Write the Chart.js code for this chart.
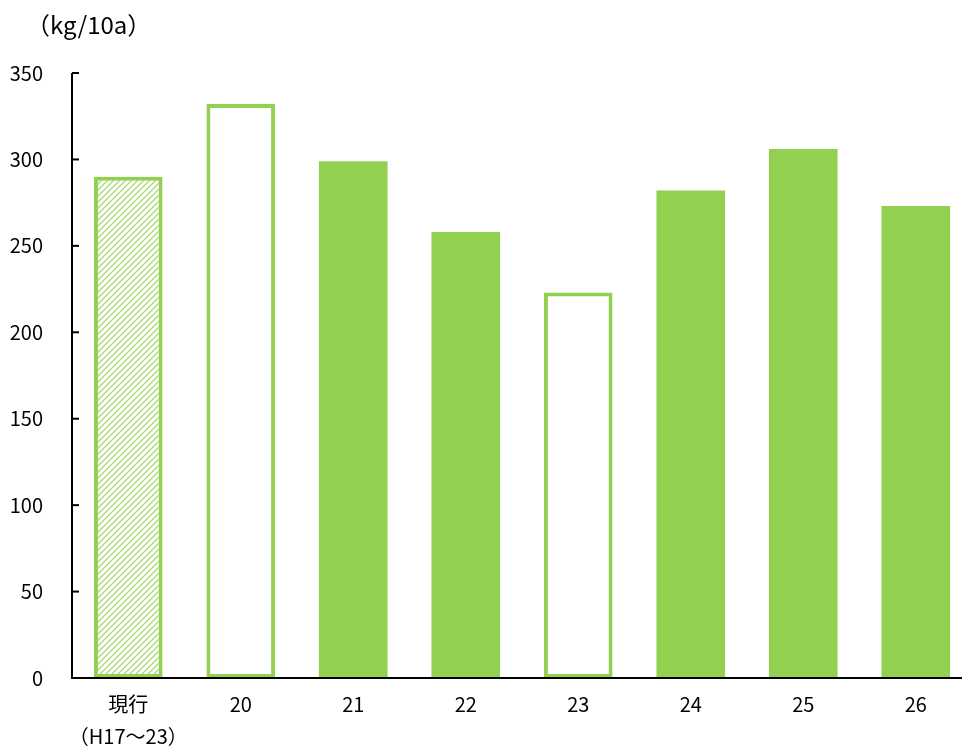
<!DOCTYPE html>
<html>
<head>
<meta charset="utf-8">
<script src="https://cdn.jsdelivr.net/npm/chart.js@4"></script>
<style>
  html, body { margin: 0; padding: 0; background: #fff; overflow: hidden; }
  #wrap { width: 972px; height: 750px; }
</style>
</head>
<body>
<div id="wrap"><canvas id="yieldChart"></canvas></div>
<script>
// categories and values (kg/10a)
const categories = [['現行', '（H17～23）'], '20', '21', '22', '23', '24', '25', '26'];
const yields = [290, 332, 299, 258, 223, 282, 306, 273];
const barStyle = ['hatch', 'outline', 'solid', 'solid', 'outline', 'solid', 'solid', 'solid'];
const unitLabel = '（kg/10a）';

const green = '#92D050';
const font = '"Noto Sans CJK JP", "Liberation Sans", sans-serif';

// diagonal hatch pattern for the first bar
function makeHatch() {
    const c = document.createElement('canvas');
    c.width = 6; c.height = 6;
    const g = c.getContext('2d');
    g.fillStyle = '#fff';
    g.fillRect(0, 0, 6, 6);
    g.strokeStyle = '#a8da74';
    g.lineWidth = 1.3;
    g.beginPath();
    g.moveTo(-1, 7); g.lineTo(7, -1);
    g.moveTo(-1, 1); g.lineTo(1, -1);
    g.moveTo(5, 7); g.lineTo(7, 5);
    g.stroke();
    return g.createPattern(c, 'repeat');
}
const hatch = makeHatch();

const fills = barStyle.map(s => s === 'solid' ? green : (s === 'hatch' ? hatch : '#fff'));
const borders = barStyle.map(s => s === 'solid' ? 0 : 4);

// axis lines, inward tick marks and the unit label
const axisPlugin = {
    id: 'axisPlugin',
    afterDraw(chart) {
        const ctx = chart.ctx;
        const y = chart.scales.y;
        const area = chart.chartArea;
        ctx.save();
        ctx.strokeStyle = '#000';
        ctx.lineWidth = 2;
        ctx.beginPath();
        ctx.moveTo(area.left, area.top);
        ctx.lineTo(area.left, area.bottom);
        ctx.lineTo(area.right, area.bottom);
        ctx.stroke();
        y.ticks.forEach(t => {
            const py = y.getPixelForValue(t.value);
            ctx.beginPath();
            ctx.moveTo(area.left, py);
            ctx.lineTo(area.left + 7, py);
            ctx.stroke();
        });
        ctx.fillStyle = '#000';
        ctx.font = '24px ' + font;
        ctx.textBaseline = 'middle';
        ctx.fillText(unitLabel, 26, 25);
        ctx.restore();
    }
};

const ctx = document.getElementById('yieldChart').getContext('2d');
new Chart(ctx, {
    type: 'bar',
    data: {
        labels: categories,
        datasets: [{
            data: yields,
            backgroundColor: fills,
            borderColor: green,
            borderWidth: borders,
            borderSkipped: false,
            barPercentage: 0.61,
            categoryPercentage: 1
        }]
    },
    options: {
        responsive: true,
        maintainAspectRatio: false,
        animation: false,
        layout: { padding: { top: 73, right: 0, bottom: 0, left: 0 } },
        plugins: { legend: { display: false }, tooltip: { enabled: false } },
        scales: {
            x: {
                grid: { display: false },
                border: { display: false },
                ticks: { color: '#000', font: { family: font, size: 20, lineHeight: 1.6 }, padding: 2, maxRotation: 0, autoSkip: false },
                afterFit(s) { s.height = 72; }
            },
            y: {
                min: 0,
                max: 350,
                grid: { display: false },
                border: { display: false },
                ticks: { stepSize: 50, color: '#000', font: { family: font, size: 20 }, padding: 21 },
                afterFit(s) { s.width = 72; }
            }
        }
    },
    plugins: [axisPlugin]
});
</script>
</body>
</html>
